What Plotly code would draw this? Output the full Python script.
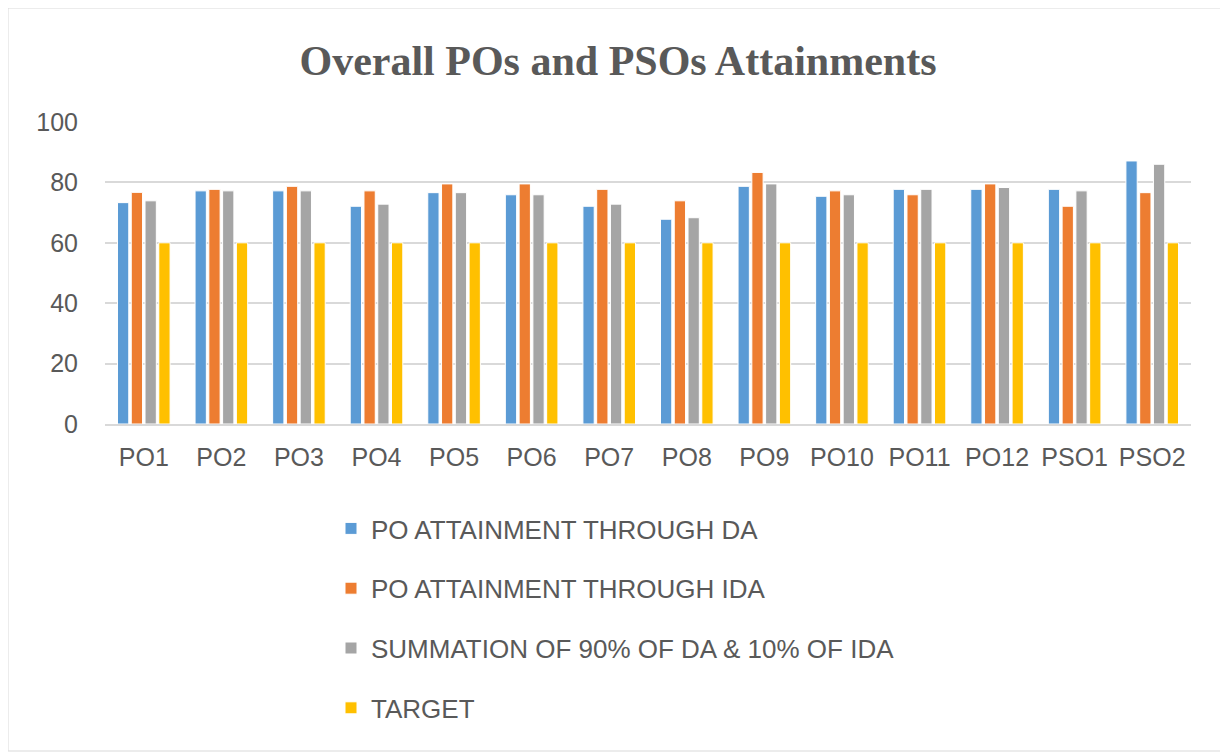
import plotly.graph_objects as go

# categories and series
categories = ["PO1", "PO2", "PO3", "PO4", "PO5", "PO6", "PO7", "PO8", "PO9",
              "PO10", "PO11", "PO12", "PSO1", "PSO2"]
da = [73.3, 77.2, 77.2, 72.1, 76.6, 75.9, 72.1, 67.8, 78.7, 75.4, 77.7, 77.7, 77.7, 87.1]
ida = [76.7, 77.7, 78.7, 77.2, 79.5, 79.5, 77.7, 73.9, 83.3, 77.2, 75.9, 79.5, 72.1, 76.6]
summation = [73.9, 77.2, 77.2, 72.8, 76.6, 75.9, 72.8, 68.3, 79.5, 75.9, 77.7, 78.3, 77.2, 86.0]
target = [60] * 14

series_names = ["PO ATTAINMENT THROUGH DA", "PO ATTAINMENT THROUGH IDA",
                "SUMMATION OF 90% OF DA & 10% OF IDA", "TARGET"]
series_colors = ["#5B9BD5", "#ED7D31", "#A5A5A5", "#FFC000"]

text_font = "Liberation Sans, Arial, sans-serif"

# page body has an 8px margin, so the figure is a bit smaller than the window
W, H = 1220, 744
L, R, T, B = 97, 37, 114, 328
pw, ph = W - L - R, H - T - B

fig = go.Figure()
for i, (name, vals) in enumerate(zip(series_names, [da, ida, summation, target])):
    fig.add_trace(go.Bar(x=categories, y=vals, name=name,
                         legendgroup=str(i),
                         marker=dict(color=series_colors[i],
                                     line=dict(color="white", width=1))))

fig.update_layout({
    "title": {"text": "<b>Overall POs and PSOs Attainments</b>",
              "font": {"size": 42, "family": "Liberation Serif, serif", "color": "#595959"},
              "x": 0.5, "xref": "container", "xanchor": "center",
              "y": 1 - 52 / H, "yanchor": "middle"},
    "width": W, "height": H,
    "margin": {"l": L, "r": R, "t": T, "b": B, "autoexpand": False},
    "paper_bgcolor": "white", "plot_bgcolor": "white",
    "barmode": "group", "bargap": 0.29, "bargroupgap": 0.18,
    "xaxis": {"showgrid": False, "showline": True, "linecolor": "#d9d9d9", "linewidth": 2,
              "ticks": "", "tickangle": 0, "ticklabelstandoff": 10,
              "tickfont": {"size": 25, "family": text_font, "color": "#595959"}},
    "yaxis": {"range": [0, 100], "dtick": 20, "gridcolor": "#d9d9d9", "gridwidth": 2,
              "zeroline": False, "ticks": "", "ticklabelstandoff": 26,
              "tickfont": {"size": 25, "family": text_font, "color": "#595959"}},
    "legend": {"orientation": "v",
               "x": (331 - 8 - L) / pw, "y": 1 - (505 - 8 - T) / ph,
               "xanchor": "left", "yanchor": "top",
               "tracegroupgap": 23, "itemwidth": 30,
               "font": {"size": 26, "family": text_font, "color": "#595959"}},
    "showlegend": True,
})

# thin border around the whole chart, like the Excel chart area
fig.add_shape(type="rect", xref="paper", yref="paper",
              x0=-L / pw, x1=1 + (R - 1) / pw, y0=-(B - 1) / ph, y1=1 + T / ph,
              line=dict(color="#d9d9d9", width=1))

fig.write_html("out.html")
